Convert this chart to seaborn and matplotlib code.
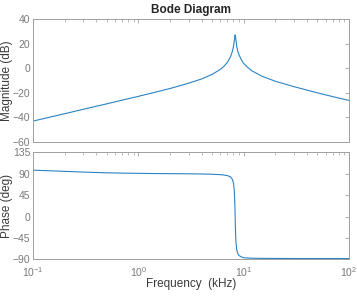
import numpy as np
import pandas as pd
import matplotlib
matplotlib.use("Agg")
import matplotlib.pyplot as plt
import matplotlib.ticker as mticker
import seaborn as sns

# Values (frequency in kHz)
freq_khz = [0.1, 0.2, 0.3, 0.5, 0.7, 1, 1.5, 2, 3, 4, 5, 6, 6.5, 7, 7.5, 7.8,
            8.0, 8.15, 8.25, 8.3, 8.35, 8.45, 8.6, 8.8, 9, 9.5, 10, 11, 12,
            15, 20, 30, 50, 70, 100]
magnitude_db = [-43.0, -37.0, -33.4, -29.0, -26.0, -22.9, -19.2, -16.5, -12.2,
                -8.7, -5.1, -1.0, 1.5, 4.7, 9.3, 13.5, 17.6, 22.4, 26.3, 27.1,
                26.3, 22.5, 17.8, 13.8, 11.2, 6.9, 3.9, 0.4, -2.2, -6.6, -10.6,
                -15.0, -20.0, -23.1, -26.2]
phase_deg = [97.0, 94.5, 93.0, 91.5, 90.8, 90.3, 89.9, 89.7, 89.4, 89.0, 88.5,
             87.6, 86.8, 85.6, 83.0, 78.0, 70.6, 54.5, 25.0, 0.0, -25.0, -54.0,
             -70.0, -77.5, -81.5, -84.5, -86.3, -87.0, -87.3, -87.6, -87.8,
             -88.0, -88.0, -88.0, -88.0]

mag_ticks = [-60, -40, -20, 0, 20, 40]
phase_ticks = [-90, -45, 0, 45, 90, 135]

df = pd.DataFrame({"freq": freq_khz, "mag": magnitude_db, "phase": phase_deg})

sns.set_style("white")
plt.rcParams["font.family"] = ["Liberation Sans", "DejaVu Sans"]
plt.rcParams["mathtext.fontset"] = "custom"
plt.rcParams["mathtext.rm"] = "Liberation Sans"

line_color = "#2a84c2"
spine_color = "#a0a0a0"
tick_color = "#7a7a7a"
label_color = "#3a3a3a"

fig = plt.figure(figsize=(3.57, 2.98), dpi=100)
ax_mag = fig.add_axes([0.0924, 0.5235, 0.8852, 0.4127])
ax_ph = fig.add_axes([0.0924, 0.1292, 0.8852, 0.3607])

sns.lineplot(data=df, x="freq", y="mag", ax=ax_mag, color=line_color, linewidth=0.8)
sns.lineplot(data=df, x="freq", y="phase", ax=ax_ph, color=line_color, linewidth=0.8)

for ax, ticks in [(ax_mag, mag_ticks), (ax_ph, phase_ticks)]:
    ax.set_xscale("log")
    ax.set_xlim(0.1, 100)
    ax.set_ylim(ticks[0], ticks[-1])
    ax.set_yticks(ticks)
    ax.xaxis.set_minor_locator(mticker.LogLocator(base=10, subs=np.arange(2, 10), numticks=20))
    ax.tick_params(which="both", direction="in", top=True, right=True,
                   color=spine_color, labelcolor=tick_color, labelsize=7.5, pad=2)
    ax.tick_params(which="major", length=3, width=0.6)
    ax.tick_params(which="minor", length=2, width=0.5)
    for s in ax.spines.values():
        s.set_color(spine_color)
        s.set_linewidth(0.7)
    ax.set_xlabel("")
    ax.set_ylabel("")

ax_mag.tick_params(axis="x", labelbottom=False)
ax_ph.set_xticks([0.1, 1, 10, 100])
ax_ph.set_xticklabels([r"$10^{-1}$", r"$10^{0}$", r"$10^{1}$", r"$10^{2}$"])
ax_ph.tick_params(axis="x", pad=4)

ax_mag.set_title("Bode Diagram", fontsize=8.5, fontweight="bold", pad=4)
fig.text(0.02, 0.73, "Magnitude (dB)", rotation=90, ha="center", va="center",
         fontsize=8.5, color=label_color)
fig.text(0.02, 0.31, "Phase (deg)", rotation=90, ha="center", va="center",
         fontsize=8.5, color=label_color)
fig.text(0.535, 0.048, "Frequency  (kHz)", ha="center", va="center",
         fontsize=8.5, color=label_color)

fig.savefig("out.png", dpi=100)
